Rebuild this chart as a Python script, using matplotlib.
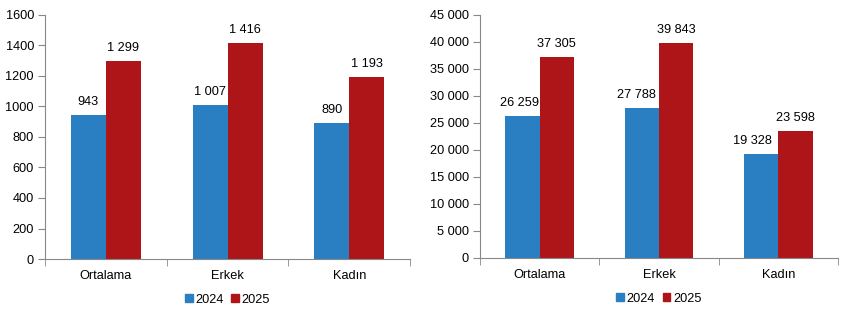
import numpy as np
import matplotlib
matplotlib.use('Agg')
import matplotlib.pyplot as plt
from matplotlib.patches import Patch

plt.rcParams['font.family'] = ['Liberation Sans', 'DejaVu Sans']
plt.rcParams['font.size'] = 9

categories = ['Ortalama', 'Erkek', 'Kadın']
years = ['2024', '2025']
left_2024 = [943, 1007, 890]
left_2025 = [1299, 1416, 1193]
right_2024 = [26259, 27788, 19328]
right_2025 = [37305, 39843, 23598]

blue = '#2A7EC2'
red = '#AD1519'
axis_gray = '#888888'


def fmt(v):
    return '{:,}'.format(v).replace(',', ' ')


def draw(ax, a, b, ymax, step, tickfmt, shift_a=(0, 0, 0)):
    x = np.arange(len(categories))
    w = 0.287
    ax.bar(x - w / 2, a, w, color=blue)
    ax.bar(x + w / 2, b, w, color=red)
    for xi, v, dx in zip(x, a, shift_a):
        ax.annotate(fmt(v), (xi - w / 2, v), xytext=(dx, 5), textcoords='offset points',
                    ha='center', va='bottom', fontsize=9.2)
    for xi, v in zip(x, b):
        ax.annotate(fmt(v), (xi + w / 2, v), xytext=(0, 5), textcoords='offset points',
                    ha='center', va='bottom', fontsize=9.2)
    ax.set_xlim(-0.5, len(categories) - 0.5)
    ax.set_ylim(0, ymax)
    yt = np.arange(0, ymax + 1, step)
    ax.set_yticks(yt)
    ax.set_yticklabels([tickfmt(int(t)) for t in yt])
    ax.set_xticks(x)
    ax.set_xticklabels(categories)
    ax.set_xticks(np.arange(-0.5, len(categories), 1), minor=True)
    ax.tick_params(axis='x', which='major', length=0, pad=8, labelsize=9.2)
    ax.tick_params(axis='x', which='minor', length=5, color=axis_gray)
    ax.tick_params(axis='y', length=5, color=axis_gray, pad=3, labelsize=9.2)
    for s in ['top', 'right']:
        ax.spines[s].set_visible(False)
    for s in ['left', 'bottom']:
        ax.spines[s].set_color(axis_gray)
    handles = [Patch(color=blue), Patch(color=red)]
    ax.legend(handles, years, loc='upper center', bbox_to_anchor=(0.5, -0.095),
              ncol=2, frameon=False, handlelength=0.6, handleheight=0.6,
              handletextpad=0.2, columnspacing=0.6, fontsize=9.2)


fig = plt.figure(figsize=(8.53, 3.18), dpi=100)
ax1 = fig.add_axes([0.0528, 0.1855, 0.428, 0.7675])
ax2 = fig.add_axes([0.5627, 0.1887, 0.4197, 0.7643])

draw(ax1, left_2024, left_2025, 1600, 200, lambda t: str(t))
draw(ax2, right_2024, right_2025, 45000, 5000, fmt, shift_a=(-2.5, -4, -6))

fig.savefig('out.png', dpi=100)
